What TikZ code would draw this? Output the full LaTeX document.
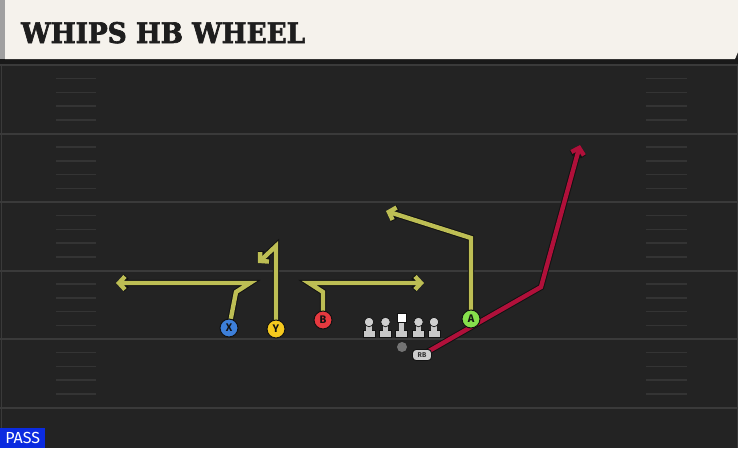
\documentclass[tikz,border=0pt]{standalone}
\usepackage{fontspec}
\usepackage{graphicx}
\usetikzlibrary{arrows.meta}
\newfontfamily\titlefont{DejaVu Serif}[BoldFeatures={FakeBold=2.5}]
\newfontfamily\labelfont{Fira Sans}
\definecolor{field}{HTML}{232323}
\definecolor{yardline}{HTML}{3A3A3A}
\definecolor{hashc}{HTML}{343434}
\definecolor{cream}{HTML}{F5F2EC}
\definecolor{strip}{HTML}{A0A0A0}
\definecolor{routey}{HTML}{BDBE54}
\definecolor{router}{HTML}{B0103A}
\definecolor{outl}{HTML}{121212}
\definecolor{xblue}{HTML}{3D7FD9}
\definecolor{yyel}{HTML}{F5C91E}
\definecolor{bred}{HTML}{E6393F}
\definecolor{agreen}{HTML}{86E04C}
\definecolor{passblue}{HTML}{0B2BE0}
\definecolor{titlec}{HTML}{1E1E1E}
\definecolor{linem}{HTML}{C8C8C8}
\pgfdeclarelayer{bg}
\pgfdeclarelayer{routes}
\pgfsetlayers{bg,routes,main}
\tikzset{
  player/.style={circle, draw=outl, line width=1pt, minimum size=18pt, inner sep=0pt,
    font=\labelfont\bfseries\fontsize{11}{11}\selectfont, text=outl},
  routeout/.style={draw=outl, line width=6.4pt, miter limit=4,
    -{Straight Barb[length=6pt,width=13pt]}},
  routein/.style={line width=4.4pt, miter limit=4,
    -{Straight Barb[length=6pt,width=13pt]}},
  yardl/.style={draw=yardline, line width=2pt},
  hashl/.style={draw=hashc, line width=1.5pt},
}
\newcommand{\route}[2]{%
  \draw[routeout] #2;
  \draw[routein, draw=#1] #2;}
\begin{document}
\begin{tikzpicture}[x=1pt,y=-1pt]
\useasboundingbox (0,0) rectangle (738,448);
\begin{pgfonlayer}{bg}
\fill[field] (0,0) rectangle (738,448);
% yard lines
\foreach \y in {65,133.5,202,270.5,339,407.5}
  \draw[yardl] (0,\y) -- (738,\y);
% hash marks
\foreach \y in {65,133.5,202,270.5,339}{
  \foreach \k in {1,2,3,4}{
    \draw[hashl] (56,{\y+13.7*\k}) -- (96,{\y+13.7*\k});
    \draw[hashl] (646,{\y+13.7*\k}) -- (687,{\y+13.7*\k});
  }}
% sidelines
\draw[draw=yardline, line width=1pt] (1.5,63) -- (1.5,448);
\draw[draw=yardline, line width=1pt] (737,63) -- (737,448);
% banner
\fill[black!90] (0,58) rectangle (738,64);
\fill[cream] (5,0) -- (738,0) -- (738,52) -- (735,59) -- (5,59) -- cycle;
\fill[strip] (0,0) rectangle (5,59);
\end{pgfonlayer}
\node[anchor=base west, inner sep=0pt, text=titlec] (title) at (21,43)
  {\resizebox{284pt}{21pt}{\titlefont\bfseries WHIPS HB WHEEL}};
% players
\node[player, fill=xblue] (X) at (229,328) {X};
\node[player, fill=yyel] (Y) at (276,329) {Y};
\node[player, fill=bred] (B) at (323,320) {B};
\node[player, fill=agreen] (A) at (471,319) {A};
\node[draw=outl, fill=linem!90, rounded corners=3.5pt, line width=0.9pt,
  minimum width=19pt, minimum height=11pt, inner sep=0pt,
  font=\labelfont\bfseries\fontsize{7}{7}\selectfont, text=black!80] (RB) at (422,355) {RB};
\node[circle, fill=black!55, minimum size=10pt, inner sep=0pt] (ball) at (402,347) {};
% route end points
\coordinate (xe) at (116,283);
\coordinate (ye) at (258,263);
\coordinate (be) at (424,283);
\coordinate (ae) at (386,211);
\coordinate (re) at (580,145);
\begin{pgfonlayer}{routes}
\route{routey}{(X.center) -- (236,292) -- (250,283) -- (xe)}
\route{routey}{(Y.center) -- (276,246) -- (ye)}
\route{routey}{(B.center) -- (323,292) -- (309,283) -- (be)}
\route{routey}{(A.center) -- (471,238) -- (ae)}
\route{router}{(RB.center) -- (541,287) -- (re)}
\end{pgfonlayer}
% linemen
\foreach \lx/\nm in {369/l1,385.5/l2,418.5/l4,434/l5}{
  \fill[outl] (\lx-6.5,329.5) rectangle (\lx+6.5,338);
  \fill[linem] (\lx-5.5,330.5) rectangle (\lx+5.5,337);
  \fill[linem] (\lx-2.6,322) rectangle (\lx+2.6,331);
  \node[circle, draw=outl, line width=0.7pt, fill=linem!85!white, minimum size=9.5pt, inner sep=0pt] (\nm) at (\lx,322) {};
}
\fill[outl] (401.5-6.5,329.5) rectangle (401.5+6.5,338);
\fill[linem] (401.5-5.5,330.5) rectangle (401.5+5.5,337);
\fill[linem] (401.5-2.6,321) rectangle (401.5+2.6,331);
\node[draw=outl, line width=0.7pt, fill=white, minimum size=9pt, inner sep=0pt] (l3) at (401.5,318) {};
% pass label
\node[fill=passblue, anchor=south west, minimum width=45pt, minimum height=20pt, inner sep=0pt,
  text=white, font=\labelfont\fontsize{16}{16}\selectfont] (pass) at (0,448) {PASS};
\end{tikzpicture}
\end{document}
